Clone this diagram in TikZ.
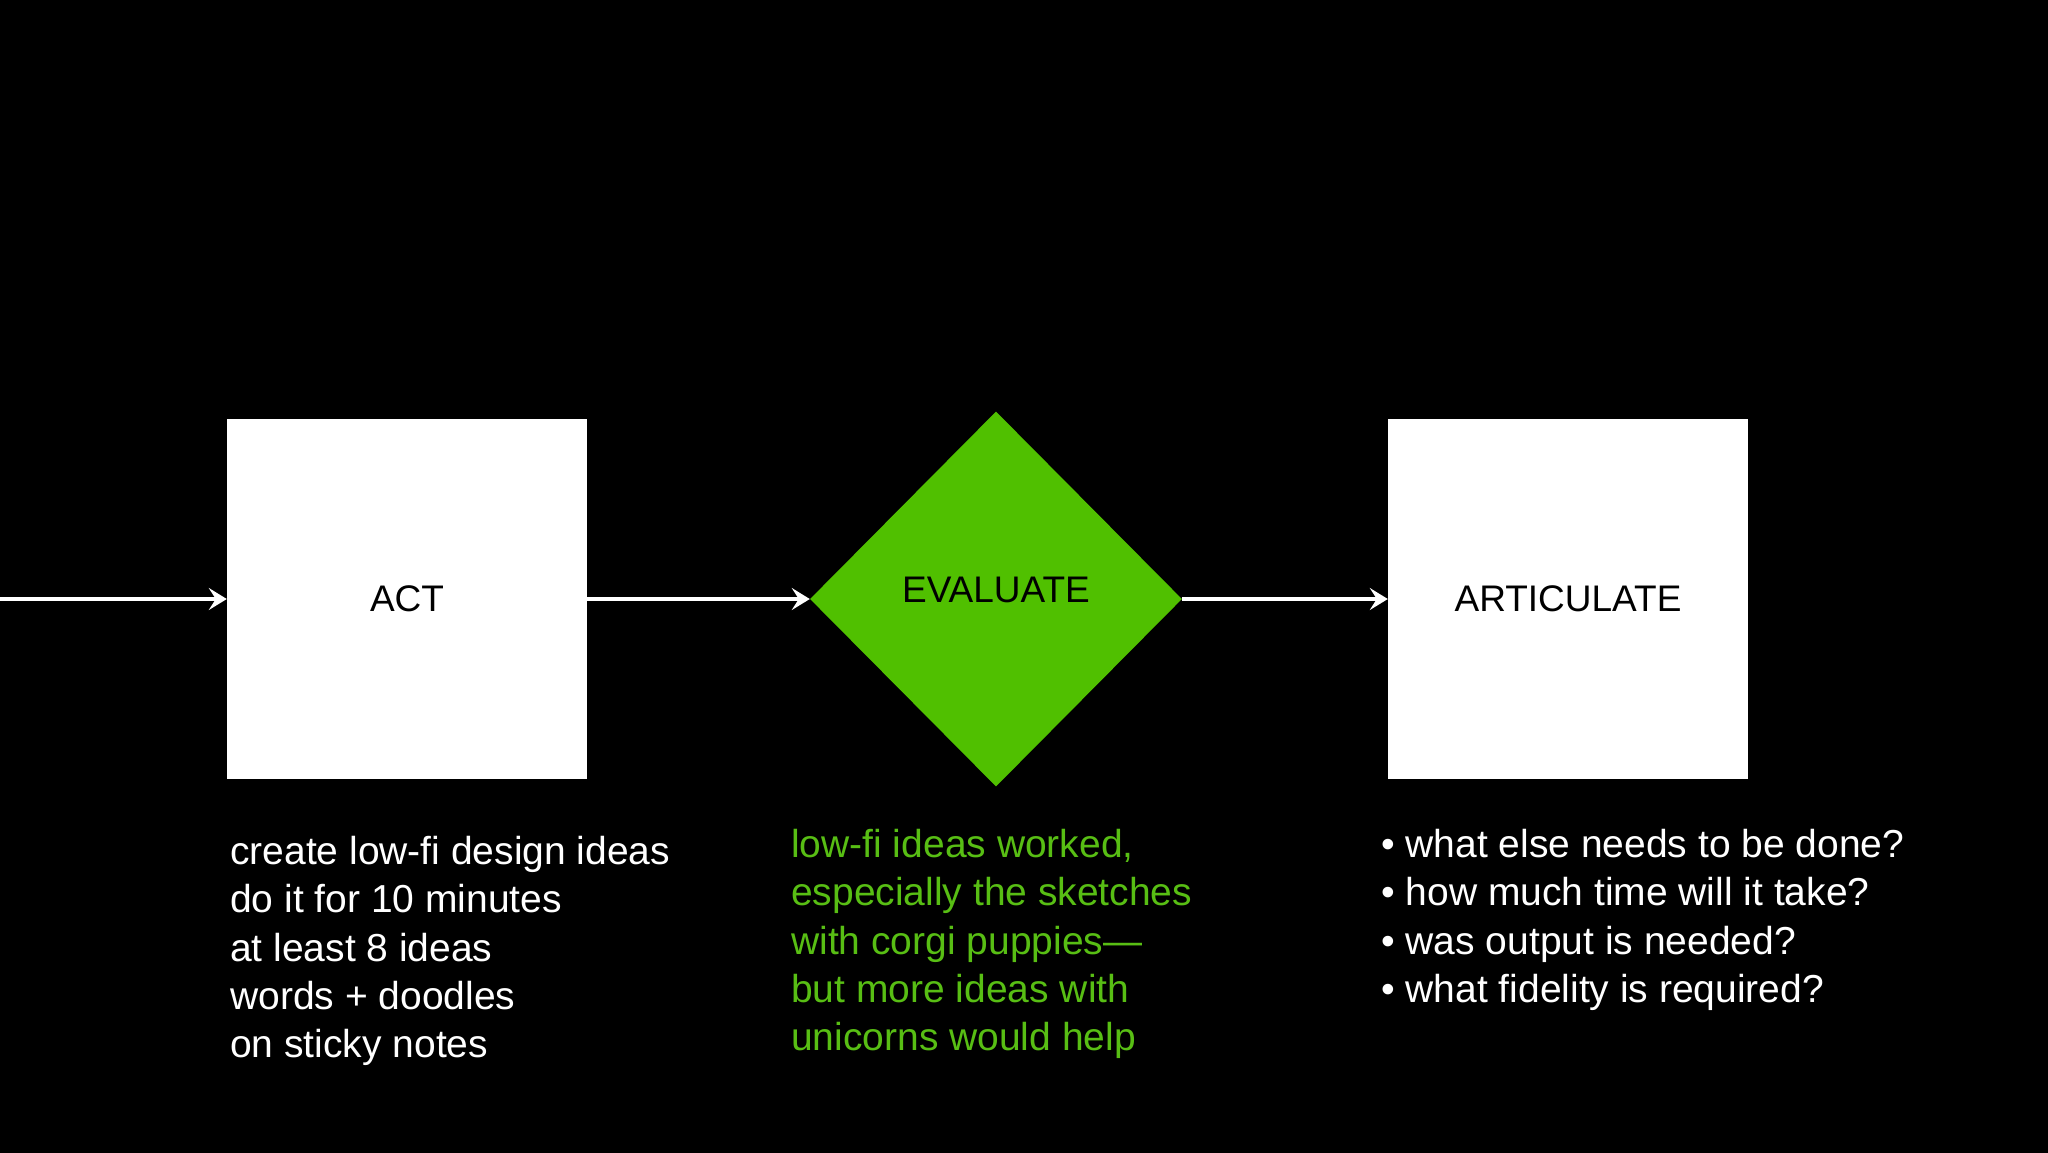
\documentclass[tikz,border=0pt]{standalone}
\usepackage{fontspec}
\setmainfont{Liberation Sans}
\usetikzlibrary{shapes.geometric,arrows.meta}
\definecolor{evgreen}{RGB}{80,192,0}
\definecolor{txgreen}{RGB}{88,190,20}
\begin{document}
\begin{tikzpicture}[x=1pt,y=-1pt,
  stepbox/.style={fill=white, minimum width=360pt, minimum height=360pt, inner sep=0pt, text=black, font=\fontsize{37}{44}\selectfont},
  decision/.style={diamond, fill=evgreen, inner sep=0pt, minimum width=372pt, minimum height=375pt, text=black, text depth=18pt, font=\fontsize{37}{44}\selectfont},
  flow/.style={draw=white, line width=4pt, -{Stealth[length=18pt,width=22pt,inset=7pt]}},
  notes/.style={anchor=north west, inner sep=0pt, align=left, font=\fontsize{39}{48.3}\selectfont}]
  \useasboundingbox (0,0) rectangle (2048,1152);
  \fill[black] (-5,-5) rectangle (2053,1157);
  \node[stepbox] (act) at (407,599) {ACT};
  \node[decision] (eval) at (996,599) {EVALUATE};
  \node[stepbox] (art) at (1568,599) {ARTICULATE};
  \coordinate (start) at (0,599);
  \draw[flow] (start) -- (act.west);
  \draw[flow] (act.east) -- (eval.west);
  \draw[flow] (eval.east) -- (art.west);
  \node[notes, text=white] (actnotes) at (230,836) {create low-fi design ideas\\do it for 10 minutes\\at least 8 ideas\\words + doodles\\on sticky notes};
  \node[notes, text=txgreen] (evalnotes) at (791,829) {low-fi ideas worked,\\especially the sketches\\with corgi puppies—\\but more ideas with\\unicorns would help};
  \node[notes, text=white] (artnotes) at (1381,829) {• what else needs to be done?\\• how much time will it take?\\• was output is needed?\\• what fidelity is required?};
\end{tikzpicture}
\end{document}
